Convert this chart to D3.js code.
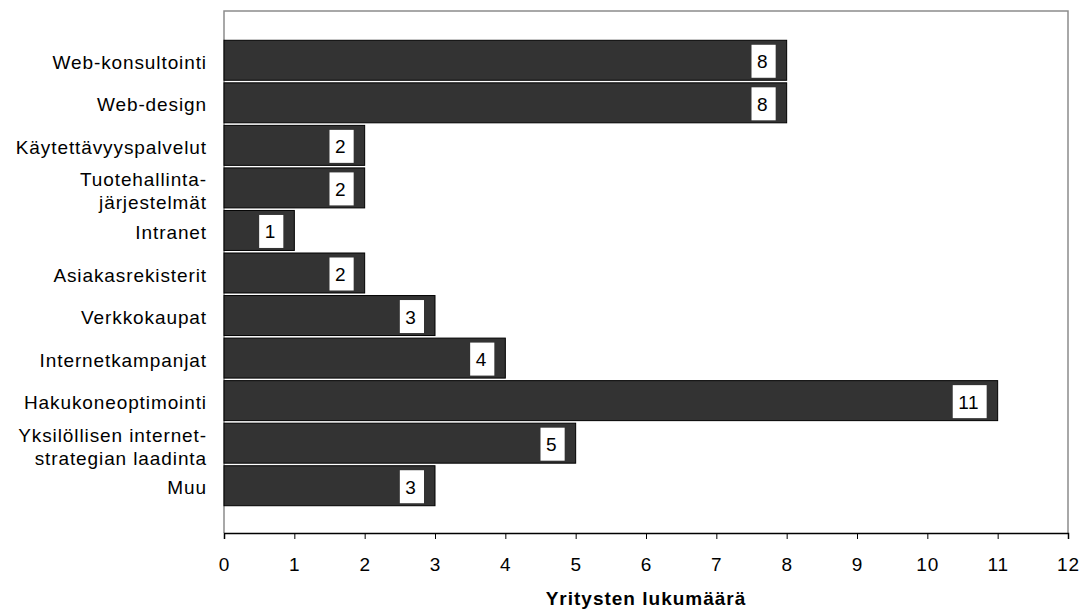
<!DOCTYPE html>
<html>
<head>
<meta charset="utf-8">
<script src="https://cdn.jsdelivr.net/npm/d3@7"></script>
<style>
  html, body { margin: 0; padding: 0; background: #fff; }
  svg text { font-family: "Liberation Sans", Arial, Helvetica, sans-serif; fill: #000; }
</style>
</head>
<body>
<svg id="chart" width="1091" height="610"></svg>
<script>
const categories = [
  "Web-konsultointi",
  "Web-design",
  "Käytettävyyspalvelut",
  "Tuotehallinta-\njärjestelmät",
  "Intranet",
  "Asiakasrekisterit",
  "Verkkokaupat",
  "Internetkampanjat",
  "Hakukoneoptimointi",
  "Yksilöllisen internet-\nstrategian laadinta",
  "Muu"
];
const values = [8, 8, 2, 2, 1, 2, 3, 4, 11, 5, 3];
const xTicks = [0, 1, 2, 3, 4, 5, 6, 7, 8, 9, 10, 11, 12];
const xTitle = "Yritysten lukumäärä";

const svg = d3.select("#chart");
const pLeft = 224, pRight = 1068, pTop = 11, pBottom = 533;

const x = d3.scaleLinear().domain([0, 12]).range([pLeft, pRight]);
const y = d3.scaleBand().domain(categories).range([39, 507]).paddingInner(0.06).paddingOuter(0.03);

// plot border (top, right, left)
svg.append("path")
  .attr("d", `M${pLeft},${pBottom}V${pTop}H${pRight}V${pBottom}`)
  .attr("fill", "none").attr("stroke", "#8c8c8c").attr("stroke-width", 1.5);

// bars
const data = categories.map((c, i) => ({ c, v: values[i] }));
svg.append("g").selectAll("rect").data(data).join("rect")
  .attr("x", x(0))
  .attr("y", d => y(d.c))
  .attr("width", d => x(d.v) - x(0))
  .attr("height", y.bandwidth())
  .attr("fill", "#333333")
  .attr("stroke", "#000")
  .attr("stroke-width", 1);

// value labels with white boxes
const lab = svg.append("g").selectAll("g").data(data).join("g");
lab.each(function(d) {
  const g = d3.select(this);
  const t = g.append("text")
    .attr("font-size", 19)
    .attr("letter-spacing", 0.6)
    .attr("text-anchor", "middle")
    .text(d.v);
  const w = t.node().getComputedTextLength() + 13;
  const cy = y(d.c) + y.bandwidth() / 2;
  const rx = x(d.v) - 11 - w;
  g.insert("rect", "text")
    .attr("x", rx).attr("y", cy - 15.5)
    .attr("width", w).attr("height", 33)
    .attr("fill", "#fff");
  t.attr("x", rx + w / 2 - 1).attr("y", cy + 8);
});

// category labels
const cl = svg.append("g").selectAll("text").data(categories).join("text")
  .attr("font-size", 19)
  .attr("letter-spacing", 0.9)
  .attr("text-anchor", "end");
cl.each(function(c) {
  const t = d3.select(this);
  const cy = y(c) + y.bandwidth() / 2;
  const lines = c.split("\n");
  if (lines.length === 1) {
    t.append("tspan").attr("x", 207).attr("y", cy + 8.5).text(c);
  } else {
    t.append("tspan").attr("x", 207).attr("y", cy - 1.5).text(lines[0]);
    t.append("tspan").attr("x", 207).attr("y", cy + 21.5).text(lines[1]);
  }
});

// x axis
const ax = svg.append("g").attr("transform", `translate(0,${pBottom})`)
  .call(d3.axisBottom(x).tickValues(xTicks).tickSize(6).tickPadding(18.5).tickFormat(d3.format("d")));
ax.select(".domain").attr("stroke", "#000").attr("stroke-width", 1.5);
ax.selectAll(".tick line").attr("stroke", "#000").attr("stroke-width", 1);
ax.selectAll(".tick text").attr("font-size", 19).attr("letter-spacing", 0.9)
  .attr("font-family", "Liberation Sans, Arial, sans-serif").attr("fill", "#000");

// axis title
svg.append("text")
  .attr("x", (pLeft + pRight) / 2)
  .attr("y", 605)
  .attr("text-anchor", "middle")
  .attr("font-size", 19)
  .attr("font-weight", "bold")
  .attr("letter-spacing", 1.0)
  .text(xTitle);
</script>
</body>
</html>
